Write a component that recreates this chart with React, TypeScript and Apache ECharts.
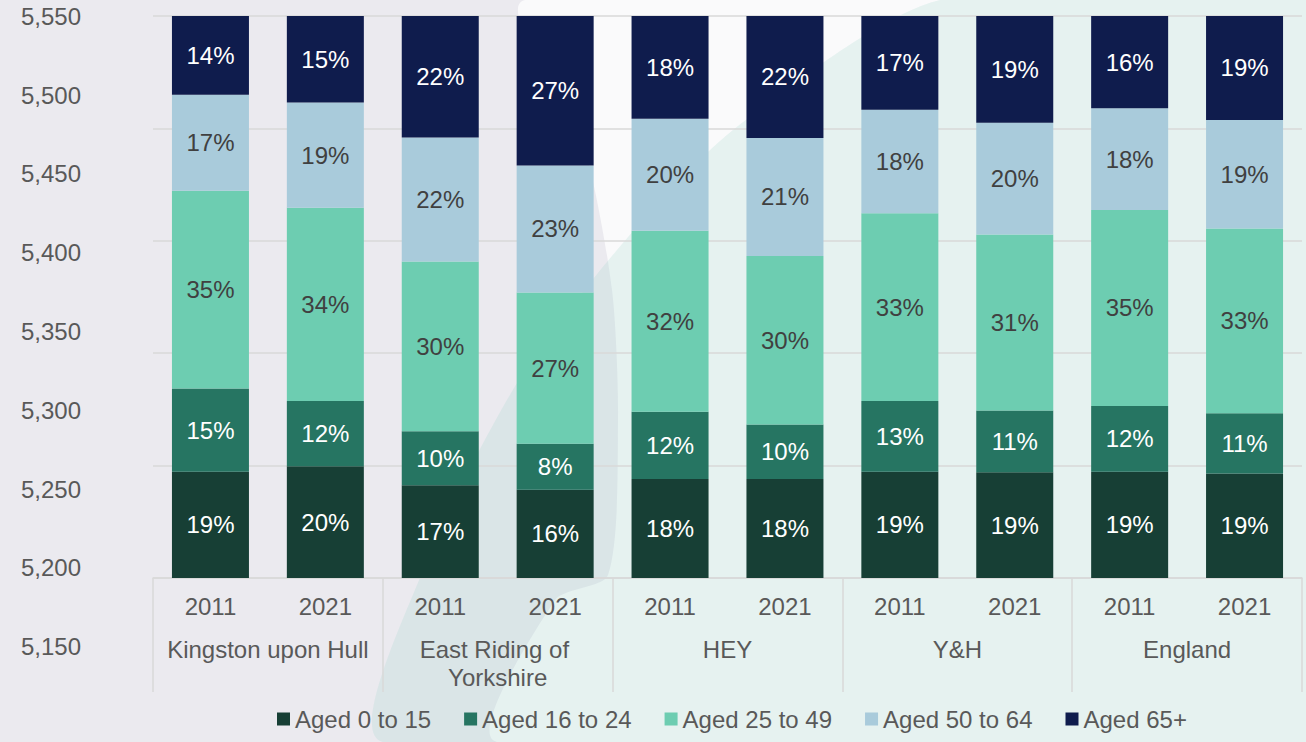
import React, { useEffect, useRef } from "react";
import * as echarts from "echarts";

const years = ["2011", "2021", "2011", "2021", "2011", "2021", "2011", "2021", "2011", "2021"];
const areas = ["Kingston upon Hull", "East Riding of Yorkshire", "HEY", "Y&H", "England"];
const seriesNames = ["Aged 0 to 15", "Aged 16 to 24", "Aged 25 to 49", "Aged 50 to 64", "Aged 65+"];

const aged0to15 = [18.9, 19.9, 16.5, 15.7, 17.6, 17.6, 18.9, 18.8, 18.9, 18.6];
const aged16to24 = [14.8, 11.6, 9.6, 8.2, 12.0, 9.7, 12.6, 11.0, 11.7, 10.7];
const aged25to49 = [35.2, 34.4, 30.2, 26.9, 32.2, 30.0, 33.4, 31.3, 34.9, 32.9];
const aged50to64 = [17.1, 18.7, 22.1, 22.6, 19.9, 21.0, 18.4, 19.9, 18.1, 19.3];
const aged65plus = [14.0, 15.4, 21.6, 26.6, 18.3, 21.7, 16.7, 19.0, 16.4, 18.5];

const leftAxisMin = 5150;
const leftAxisMax = 5550;
const leftAxisStep = 50;

const colors = ["#173f35", "#267562", "#6dcdb1", "#a9cbdb", "#0f1c4d"];
const labelColors = ["#ffffff", "#ffffff", "#404040", "#404040", "#ffffff"];
const FONT = "'Liberation Sans', Arial, sans-serif";
const FS = 24;

export default function App() {
  const ref = useRef<HTMLDivElement>(null);
  useEffect(() => {
    if (!ref.current) return;
    const chart = echarts.init(ref.current, null, { renderer: "svg" });
    const values = [aged0to15, aged16to24, aged25to49, aged50to64, aged65plus];
    const option: any = {
      animation: false,
      backgroundColor: "#ebeaef",
      textStyle: { fontFamily: FONT },
      graphic: [
        {
          type: "polygon",
          silent: true,
          z: -10,
          shape: {
            smooth: 0.25,
            points: [
              [525, 0], [585, 150], [612, 290], [618, 420], [608, 575], [555, 600], [497, 742],
              [1306, 742], [1306, 0],
            ],
          },
          style: { fill: "#fafafb" },
        },
        {
          type: "polygon",
          silent: true,
          z: -9,
          shape: {
            smooth: 0.25,
            points: [
              [940, 0], [733, 130], [617, 250], [517, 383], [423, 570], [383, 742],
              [1306, 742], [1306, 0],
            ],
          },
          style: { fill: "rgba(150,212,200,0.2)" },
        },
      ],
      legend: {
        data: seriesNames,
        bottom: 6,
        left: 272,
        itemWidth: 13,
        itemHeight: 13,
        itemGap: 33,
        icon: "rect",
        textStyle: { fontSize: FS, color: "#595959", fontFamily: FONT },
      },
      grid: [
        { left: 153, right: 4, top: 16, bottom: 164 },
        { left: 90, width: 50, top: 16.3, height: 630.4 },
      ],
      xAxis: [
        {
          type: "category",
          gridIndex: 0,
          data: years,
          axisLine: { show: true, lineStyle: { color: "#d9d9d9", width: 1.5 } },
          axisTick: { show: false },
          axisLabel: { fontSize: FS, color: "#595959", margin: 16, fontFamily: FONT },
        },
        {
          type: "category",
          gridIndex: 0,
          position: "bottom",
          data: areas,
          axisLine: { show: false },
          axisTick: { show: true, length: 114, interval: 0, lineStyle: { color: "#d9d9d9", width: 1.5 } },
          axisLabel: {
            fontSize: FS,
            color: "#595959",
            margin: 57,
            interval: 0,
            lineHeight: 28,
            width: 215,
            overflow: "break",
            fontFamily: FONT,
          },
        },
        { type: "category", gridIndex: 1, show: false, data: ["a"] },
      ],
      yAxis: [
        {
          type: "value",
          gridIndex: 0,
          min: 0,
          max: 100,
          interval: 20,
          axisLabel: { show: false },
          axisLine: { show: false },
          axisTick: { show: false },
          splitLine: { show: true, lineStyle: { color: "#d9d9d9", width: 1.5 } },
        },
        {
          type: "value",
          gridIndex: 1,
          min: leftAxisMin,
          max: leftAxisMax,
          interval: leftAxisStep,
          axisLine: { show: false },
          axisTick: { show: false },
          splitLine: { show: false },
          axisLabel: {
            fontSize: FS,
            color: "#595959",
            margin: 9,
            fontFamily: FONT,
            formatter: (v: number) => v.toLocaleString("en-US"),
          },
        },
      ],
      series: [
        ...seriesNames.map((name, i) => ({
          name,
          type: "bar",
          stack: "total",
          xAxisIndex: 0,
          yAxisIndex: 0,
          barWidth: 77,
          data: values[i],
          itemStyle: { color: colors[i] },
          label: {
            show: true,
            position: "inside",
            fontSize: FS,
            color: labelColors[i],
            fontFamily: FONT,
            formatter: (p: any) => Math.round(p.value) + "%",
          },
        })),
        {
          type: "line",
          xAxisIndex: 2,
          yAxisIndex: 1,
          data: [],
          silent: true,
        },
      ],
    };
    chart.setOption(option);
    return () => chart.dispose();
  }, []);
  return (
    <div
      ref={ref}
      style={{ position: "fixed", left: 0, top: 0, width: 1306, height: 742 }}
    />
  );
}
